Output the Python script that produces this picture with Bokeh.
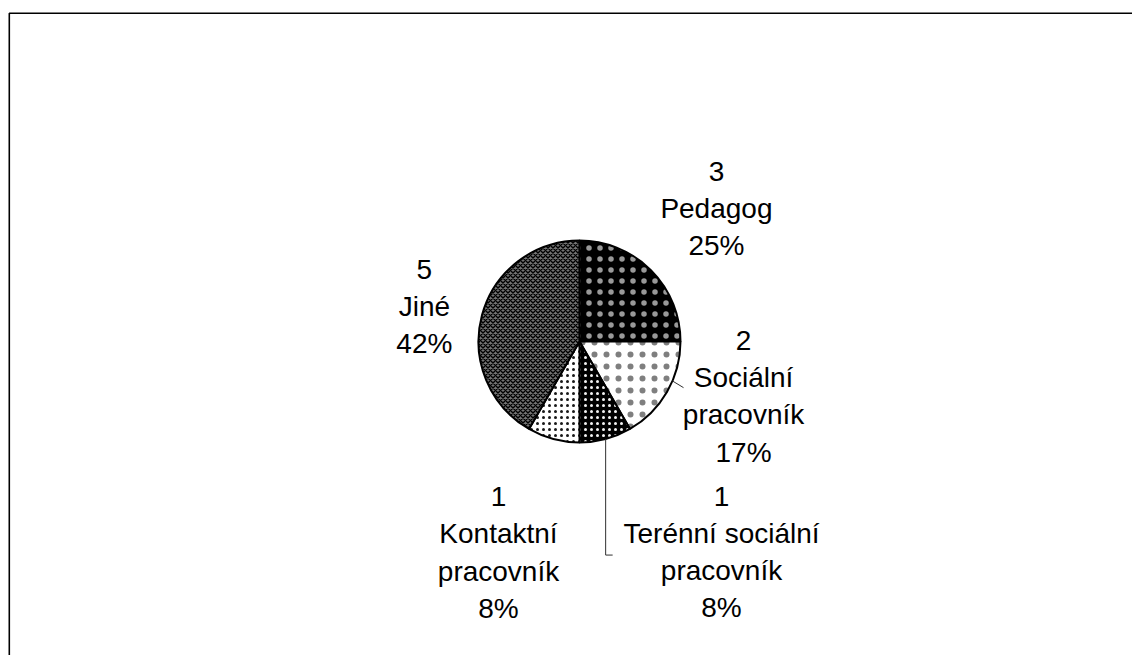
import math
from bokeh.plotting import figure
from bokeh.models import Range1d, ColumnDataSource
from bokeh.core.properties import value
from bokeh.embed import file_html
from bokeh.resources import INLINE

# ---- data ----
categories = ["Pedagog", "Sociální\npracovník", "Terénní sociální\npracovník", "Kontaktní\npracovník", "Jiné"]
counts = [3, 2, 1, 1, 5]

# ---- styles (layout, not data) ----
fill_colors = ["#000000", "#ffffff", "#000000", "#ffffff", "#737373"]
hatch_patterns = ["dot", "dot", "dot", "dot", "diagonal_cross"]
hatch_colors = ["#ffffff", "#000000", "#ffffff", "#000000", "#000000"]
hatch_alphas = [0.6, 0.5, 0.95, 0.9, 1.0]
hatch_scales = [11.0, 12.0, 6.0, 6.0, 5.0]
hatch_weights = [1.0, 1.0, 1.0, 1.0, 1.4]
# label placement: radius (px) and angle nudge (deg, clockwise) from slice middle
label_radius = [191, 173, 254, 226, 159]
label_nudge = [0.8, -11.5, -19.0, 6.0, -2.3]

W, H = 1132, 655
p = figure(width=W, height=H, output_backend="svg", toolbar_location=None,
           x_range=Range1d(0, W), y_range=Range1d(0, H),
           x_axis_type=None, y_axis_type=None, min_border=0,
           outline_line_color=None, background_fill_color="white",
           border_fill_color="white")
p.xgrid.visible = False
p.ygrid.visible = False

# outer frame (only top and left edge visible in window)
p.line(x=[8.8, 8.8, W + 50], y=[-50, H - 12.8, H - 12.8], line_color="#000000", line_width=1.6)

cx, cy, R = 579, 314, 101
total = sum(counts)
fracs = [c / total for c in counts]
cum = [0]
for f in fracs:
    cum.append(cum[-1] + f)

starts = [math.pi / 2 - 2 * math.pi * cum[i] for i in range(len(counts))]
ends = [math.pi / 2 - 2 * math.pi * cum[i + 1] for i in range(len(counts))]

src = ColumnDataSource(dict(start=starts, end=ends, fill=fill_colors, hp=hatch_patterns,
                            hc=hatch_colors, ha=hatch_alphas, hs=hatch_scales, hw=hatch_weights))
p.wedge(x=cx, y=cy, radius=R, start_angle="start", end_angle="end", direction="clock",
        fill_color="fill", hatch_pattern="hp", hatch_color="hc", hatch_alpha="ha",
        hatch_scale="hs", hatch_weight="hw", line_color="#000000", line_width=2, source=src)

# labels
lx, ly, texts = [], [], []
mids = []
for i, c in enumerate(counts):
    mid_cw = 360 * (cum[i] + cum[i + 1]) / 2  # degrees clockwise from 12 o'clock
    mids.append(mid_cw)
    a = math.radians(mid_cw + label_nudge[i])
    lx.append(cx + label_radius[i] * math.sin(a))
    ly.append(cy + label_radius[i] * math.cos(a))
    pct = round(100 * fracs[i])
    texts.append(f"{c}\n{categories[i]}\n{pct}%")

p.text(x=lx, y=ly, text=texts, text_align="center", text_baseline="middle",
       text_font=value("Liberation Sans"), text_font_size="28px",
       text_line_height=1.2, text_color="#000000")

# leader lines
# Sociální pracovník
a1 = math.radians(mids[1] - 7)
p.line(x=[cx + R * math.sin(a1), cx + (R + 12) * math.sin(a1)],
       y=[cy + R * math.cos(a1), cy + (R + 12) * math.cos(a1) - 2],
       line_color="#303030", line_width=1)
# Terénní sociální pracovník
a2 = math.radians(mids[2])
x0 = cx + R * math.sin(a2)
y0 = cy + R * math.cos(a2)
p.line(x=[x0, x0, x0 + 7], y=[y0, ly[2] - 3, ly[2] - 3], line_color="#303030", line_width=1)

with open("out.html", "w") as f:
    f.write(file_html(p, INLINE))
